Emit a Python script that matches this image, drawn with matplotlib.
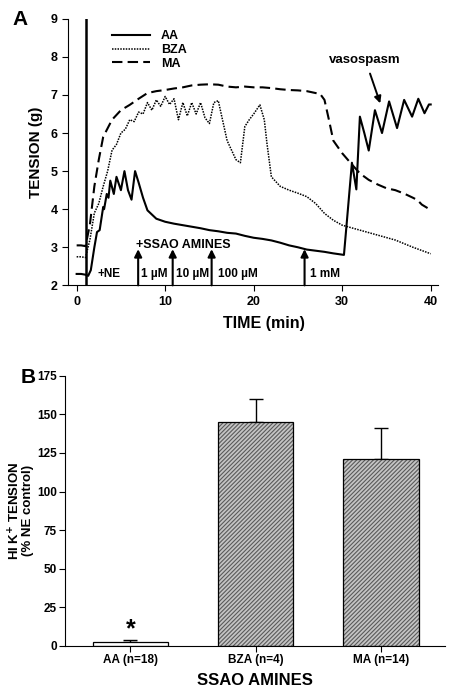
import numpy as np
import matplotlib
matplotlib.use('Agg')
import matplotlib.pyplot as plt

plt.rcParams['font.family'] = ['Liberation Sans', 'DejaVu Sans']
plt.rcParams['font.weight'] = 'bold'
plt.rcParams['hatch.linewidth'] = 0.8

# panel A traces (time in min, tension in g)
aa_t = [0, 0.5, 1.0, 1.3, 1.6, 2.0, 2.3, 2.6, 3.0, 3.1, 3.4, 3.6, 3.8, 4.2, 4.5,
        5.0, 5.4, 5.8, 6.2, 6.6, 7.0, 7.5, 8.0, 9.0, 10, 11, 12, 13, 14, 15, 16,
        17, 18, 19, 20, 21, 22, 23, 24, 25, 26, 27, 28, 29, 30.2, 30.5, 31.1,
        31.6, 32.0, 32.5, 33.0, 33.7, 34.5, 35.3, 36.2, 37.0, 37.9, 38.6, 39.3,
        39.8, 40]
aa_v = [2.3, 2.3, 2.28, 2.25, 2.4, 3.0, 3.4, 3.45, 4.06, 4.0, 4.4, 4.3, 4.75,
        4.4, 4.85, 4.5, 5.0, 4.5, 4.25, 5.0, 4.7, 4.3, 3.97, 3.75, 3.67, 3.62,
        3.58, 3.54, 3.5, 3.45, 3.42, 3.38, 3.36, 3.3, 3.25, 3.22, 3.18, 3.12,
        3.05, 3.0, 2.94, 2.91, 2.88, 2.84, 2.8, 3.6, 5.22, 4.52, 6.43, 6.0, 5.54,
        6.6, 6.0, 6.83, 6.13, 6.87, 6.43, 6.9, 6.52, 6.75, 6.75]

bza_t = [0, 0.5, 1.0, 1.5, 2.0, 2.5, 3.0, 3.5, 4.0, 4.5, 5.0, 5.5, 6.0, 6.5, 7.0,
         7.5, 8.0, 8.5, 9.0, 9.5, 10, 10.5, 11, 11.5, 12, 12.5, 13, 13.5, 14,
         14.5, 15, 15.5, 16, 17, 18, 18.5, 19, 19.5, 20, 20.7, 21.2, 21.5, 22,
         23, 24, 25, 26, 27, 28, 29, 30, 32, 34, 36, 38, 40]
bza_v = [2.75, 2.75, 2.73, 3.2, 3.9, 4.15, 4.6, 5.0, 5.55, 5.7, 6.0, 6.1, 6.35,
         6.3, 6.55, 6.5, 6.8, 6.6, 6.87, 6.7, 6.96, 6.75, 6.9, 6.35, 6.8, 6.45,
         6.8, 6.5, 6.8, 6.4, 6.25, 6.8, 6.85, 5.8, 5.3, 5.22, 6.17, 6.35, 6.5,
         6.74, 6.35, 5.73, 4.85, 4.6, 4.5, 4.42, 4.33, 4.15, 3.89, 3.71, 3.58,
         3.45, 3.32, 3.19, 3.0, 2.83]

ma_t = [0, 0.5, 1.0, 1.5, 2.0, 2.5, 3.0, 4.0, 5.0, 6.0, 7.0, 8.0, 9.0, 10, 11,
        12, 13, 14, 15, 16, 17, 18, 19, 20, 21, 22, 23, 24, 25, 26, 27, 27.5,
        28, 28.5, 29, 30, 31, 32, 33, 34, 35, 36, 37, 38, 38.5, 39, 40]
ma_v = [3.05, 3.05, 3.03, 3.6, 4.6, 5.3, 5.9, 6.35, 6.6, 6.74, 6.9, 7.05, 7.1,
        7.13, 7.17, 7.2, 7.25, 7.27, 7.28, 7.27, 7.22, 7.2, 7.22, 7.2, 7.2,
        7.18, 7.15, 7.13, 7.12, 7.1, 7.05, 7.03, 6.87, 6.35, 5.8, 5.47, 5.2,
        4.94, 4.77, 4.65, 4.55, 4.5, 4.41, 4.3, 4.24, 4.12, 3.98]

arrow_t = [6.95, 10.85, 15.25, 25.75]
dose_labels = ['+NE', '1 µM', '10 µM', '100 µM', '1 mM']
dose_x = [3.7, 8.75, 13.05, 18.2, 28.05]

# panel B
groups = ['AA (n=18)', 'BZA (n=4)', 'MA (n=14)']
means = [2.5, 145, 121]
sems = [1.5, 15, 20]

fig = plt.figure(figsize=(4.49, 6.96), dpi=100)

ax1 = fig.add_axes([0.151, 0.590, 0.824, 0.383])
ax1.plot([1.05, 1.05], [2, 9], c='k', lw=1.8)
ax1.plot(aa_t, aa_v, c='k', lw=1.5, label='AA')
ax1.plot(bza_t, bza_v, c='k', lw=1.1, ls=(0, (1, 0.8)), label='BZA')
ax1.plot(ma_t, ma_v, c='k', lw=1.5, ls=(0, (5, 2.5)), label='MA')
for t in arrow_t:
    ax1.annotate('', xy=(t, 2.95), xytext=(t, 2.0),
                 arrowprops=dict(arrowstyle='-|>', color='k', lw=1.5,
                                 mutation_scale=11, shrinkA=0, shrinkB=0))
for lab, x in zip(dose_labels, dose_x):
    ax1.text(x, 2.3, lab, ha='center', va='center', fontsize=8.5, fontweight='bold')
ax1.text(6.75, 3.05, '+SSAO AMINES', ha='left', va='center', fontsize=9,
         fontweight='bold')
ax1.annotate('vasospasm', xy=(34.3, 6.78), xytext=(32.6, 7.93),
             ha='center', va='center', fontsize=9.5, fontweight='bold',
             arrowprops=dict(arrowstyle='-|>', color='k', lw=1.4,
                             mutation_scale=10, shrinkA=4, shrinkB=0))
ax1.set_xlim(-1, 40.8)
ax1.set_ylim(2, 9)
ax1.set_xticks([0, 10, 20, 30, 40])
ax1.set_yticks(range(2, 10))
ax1.set_xlabel('TIME (min)', fontsize=11.5, fontweight='bold')
ax1.xaxis.set_label_coords(0.53, -0.115)
ax1.set_ylabel('TENSION (g)', fontsize=11, fontweight='bold', labelpad=5)
ax1.spines['top'].set_visible(False)
ax1.spines['right'].set_visible(False)
ax1.tick_params(direction='out', length=4, labelsize=9)
ax1.legend(loc='upper left', bbox_to_anchor=(0.09, 1.0), frameon=False,
           fontsize=9, handlelength=3.0, handletextpad=0.9,
           labelspacing=0.15)
fig.text(0.028, 0.972, 'A', fontsize=15, fontweight='bold', va='center')

ax2 = fig.add_axes([0.145, 0.072, 0.846, 0.388])
x = np.arange(len(groups))
# hatched fill first, then the black outline on top
ax2.bar(x, means, width=0.6, color=['white', '#c4c4c4', '#c4c4c4'],
        edgecolor=['white', '#5a5a5a', '#5a5a5a'], linewidth=0,
        hatch=[None, '////////', '////////'], zorder=2)
ax2.bar(x, means, width=0.6, fill=False, edgecolor='k', linewidth=0.9, zorder=3)
ax2.errorbar(x, means, yerr=[[0, 0, 0], sems], fmt='none', ecolor='k',
             elinewidth=1, capsize=5, capthick=1, zorder=1)
ax2.text(0, 11, '*', ha='center', va='center', fontsize=18, fontweight='bold')
ax2.set_xlim(-0.52, 2.51)
ax2.set_ylim(0, 175)
ax2.set_yticks(range(0, 176, 25))
ax2.set_xticks(x)
ax2.set_xticklabels(groups)
ax2.set_xlabel('SSAO AMINES', fontsize=12, fontweight='bold', labelpad=5)
ax2.set_ylabel('HI K$^{\\mathbf{+}}$ TENSION\n(% NE control)', fontsize=9.5,
               fontweight='bold', labelpad=2, linespacing=0.95)
ax2.spines['top'].set_visible(False)
ax2.spines['right'].set_visible(False)
ax2.tick_params(direction='out', length=4, labelsize=8.5, pad=2)
fig.text(0.045, 0.458, 'B', fontsize=15, fontweight='bold', va='center')

fig.savefig('out.png', dpi=100)
